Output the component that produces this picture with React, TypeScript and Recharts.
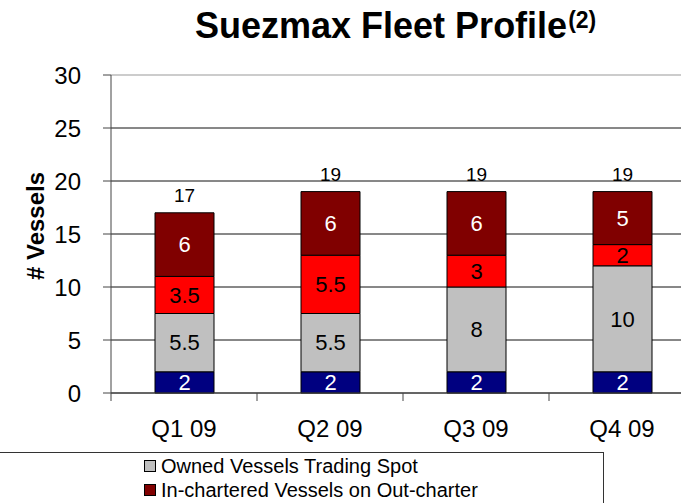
import React from 'react';
import { BarChart, Bar, XAxis, YAxis, CartesianGrid, LabelList } from 'recharts';

const quarters = ['Q1 09', 'Q2 09', 'Q3 09', 'Q4 09'];
const ownedTimeCharter = [2, 2, 2, 2];
const ownedSpot = [5.5, 5.5, 8, 10];
const inCharteredSpot = [3.5, 5.5, 3, 2];
const inCharteredOut = [6, 6, 6, 5];
const totals = [17, 19, 19, 19];
const yTicks = [0, 5, 10, 15, 20, 25, 30];

const legendItems = [
  { label: 'Owned Vessels Trading Spot', color: '#C0C0C0' },
  { label: 'In-chartered Vessels on Out-charter', color: '#800000' },
];

const data = quarters.map((q, i) => ({
  q,
  a: ownedTimeCharter[i],
  b: ownedSpot[i],
  c: inCharteredSpot[i],
  d: inCharteredOut[i],
  total: totals[i],
}));

const FONT = '"Liberation Sans", Arial, Helvetica, sans-serif';

const XTick = (props: any) => {
  const { x, y, payload } = props;
  const half = payload && typeof payload.offset === 'number' && payload.offset > 0 ? payload.offset : 73;
  return (
    <g>
      <line x1={x - half} x2={x - half} y1={y} y2={y + 8} stroke="#444" strokeWidth={1} />
      <text x={x} y={y + 44} textAnchor="middle" fontSize={24} fill="#000" fontFamily={FONT}>
        {payload.value}
      </text>
    </g>
  );
};

const GridLine = (props: any) => {
  const { x1, x2, y1, y2 } = props;
  const isTop = y1 < 80;
  return (
    <line x1={x1} x2={x2} y1={y1} y2={y2} stroke={isTop ? '#999' : '#111'} strokeWidth={1} />
  );
};

export default function App() {
  return (
    <div style={{ position: 'absolute', left: 0, top: 0, width: 681, height: 503, overflow: 'hidden', background: '#fff', fontFamily: FONT }}>
      <BarChart
        width={695}
        height={503}
        data={data}
        margin={{ top: 75, right: 0, bottom: 70, left: 0 }}
        barCategoryGap={0}
      >
        <CartesianGrid vertical={false} horizontal={GridLine as any} />
        <XAxis
          dataKey="q"
          height={40}
          tickLine={false}
          tickSize={0}
          tickMargin={0}
          axisLine={{ stroke: '#444', strokeWidth: 1 }}
          tick={<XTick />}
          interval={0}
        />
        <YAxis
          width={111}
          domain={[0, 30]}
          ticks={yTicks}
          interval={0}
          tickSize={8}
          tickMargin={22}
          axisLine={{ stroke: '#444', strokeWidth: 1 }}
          tickLine={{ stroke: '#444' }}
          tick={{ fontSize: 24, fill: '#000', fontFamily: FONT }}
        />
        <Bar dataKey="a" stackId="s" fill="#000080" stroke="#000" strokeWidth={1} barSize={59} isAnimationActive={false}>
          <LabelList dataKey="a" position="center" fill="#fff" fontSize={22} fontFamily={FONT} />
        </Bar>
        <Bar dataKey="b" stackId="s" fill="#C0C0C0" stroke="#000" strokeWidth={1} barSize={59} isAnimationActive={false}>
          <LabelList dataKey="b" position="center" fill="#000" fontSize={22} fontFamily={FONT} />
        </Bar>
        <Bar dataKey="c" stackId="s" fill="#FF0000" stroke="#000" strokeWidth={1} barSize={59} isAnimationActive={false}>
          <LabelList dataKey="c" position="center" fill="#000" fontSize={22} fontFamily={FONT} />
        </Bar>
        <Bar dataKey="d" stackId="s" fill="#800000" stroke="#000" strokeWidth={1} barSize={59} isAnimationActive={false}>
          <LabelList dataKey="d" position="center" fill="#fff" fontSize={22} fontFamily={FONT} />
          <LabelList dataKey="total" position="top" offset={11} fill="#000" fontSize={19} fontFamily={FONT} />
        </Bar>
      </BarChart>
      <svg width={681} height={503} style={{ position: 'absolute', left: 0, top: 0, pointerEvents: 'none' }}>
        <text x={195} y={38} fontSize={36} fontWeight="bold" fill="#000" fontFamily={FONT}>
          Suezmax Fleet Profile
          <tspan fontSize={23} dx={1} dy={-10}>(2)</tspan>
        </text>
        <text
          x={35}
          y={226}
          transform="rotate(-90 35 226)"
          textAnchor="middle"
          dominantBaseline="central"
          fontSize={24}
          fontWeight="bold"
          fill="#000"
          fontFamily={FONT}
        >
          # Vessels
        </text>
      </svg>
      <div
        style={{
          position: 'absolute',
          left: -2,
          top: 452,
          width: 606,
          height: 80,
          border: '1px solid #333',
          boxSizing: 'border-box',
          background: '#fff',
          paddingLeft: 145,
          paddingTop: 1,
        }}
      >
        {legendItems.map((it) => (
          <div key={it.label} style={{ display: 'flex', alignItems: 'center', height: 24, fontSize: 20, color: '#000' }}>
            <span style={{ display: 'inline-block', width: 10, height: 10, background: it.color, border: '1px solid #000', marginRight: 5 }} />
            <span>{it.label}</span>
          </div>
        ))}
      </div>
    </div>
  );
}
